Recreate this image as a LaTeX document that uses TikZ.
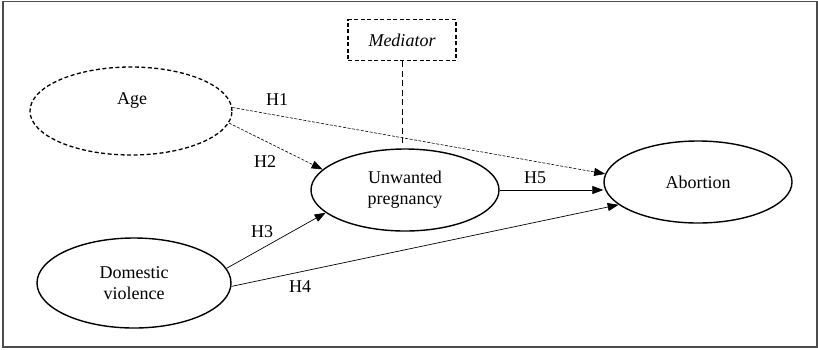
\documentclass[tikz,border=0pt]{standalone}
\usepackage{fontspec}
\setmainfont{Liberation Serif}
\usepackage{tikz}
\usetikzlibrary{arrows.meta, shapes.geometric, calc}

\begin{document}
\begin{tikzpicture}[x=1pt,y=-1pt,>={Triangle[length=11pt,width=8pt]},
    font=\fontsize{18}{21}\selectfont]
  \useasboundingbox (0,0) rectangle (818,349);
  \draw[black!70,line width=1.5pt] (3,1.5) rectangle (817,347);
  % variables
  \node[draw,dashed,dash pattern=on 4pt off 2.5pt,line width=1.3pt,ellipse,
        minimum width=202pt,minimum height=88pt,inner sep=0pt] (age) at (131,111) {};
  \node (agetxt) at (132,100) {Age};
  \node[draw,ellipse,line width=1.4pt,
        minimum width=194pt,minimum height=90pt,inner sep=0pt,align=center] (dom) at (134,283)
    {Domestic\\violence};
  \node[draw,ellipse,line width=1.4pt,
        minimum width=188pt,minimum height=82pt,inner sep=0pt,align=center] (unw) at (405,190)
    {Unwanted\\pregnancy};
  \node[draw,ellipse,line width=1.4pt,
        minimum width=188pt,minimum height=82pt,inner sep=0pt] (abort) at (698,182)
    {Abortion};
  \node[draw,dashed,dash pattern=on 4pt off 2.5pt,line width=1.2pt,
        minimum width=108pt,minimum height=41pt,font=\fontsize{18}{21}\selectfont\itshape] (med) at (402,40)
    {Mediator};
  % paths
  \draw[dashed,dash pattern=on 6pt off 3.5pt,line width=1pt]
    (med.south) -- ([yshift=3pt]med.south |- unw.north);
  \draw[->,dash pattern=on 3pt off 1.5pt,line width=0.6pt] (age.2) -- (abort.175);
  \draw[->,dash pattern=on 3pt off 1.5pt,line width=0.6pt] (age.-7) -- (unw.166);
  \draw[->,line width=0.7pt] (dom.9) -- (unw.196);
  \draw[->,line width=0.7pt] (dom.-2) -- (abort.196);
  \draw[->,line width=0.7pt] (unw.east) -- (unw.east -| abort.west);
  % hypotheses
  \node (h1) at (277,100) {H1};
  \node (h2) at (265,162) {H2};
  \node (h3) at (262,232) {H3};
  \node (h4) at (300,287) {H4};
  \node (h5) at (535,178) {H5};
\end{tikzpicture}
\end{document}
